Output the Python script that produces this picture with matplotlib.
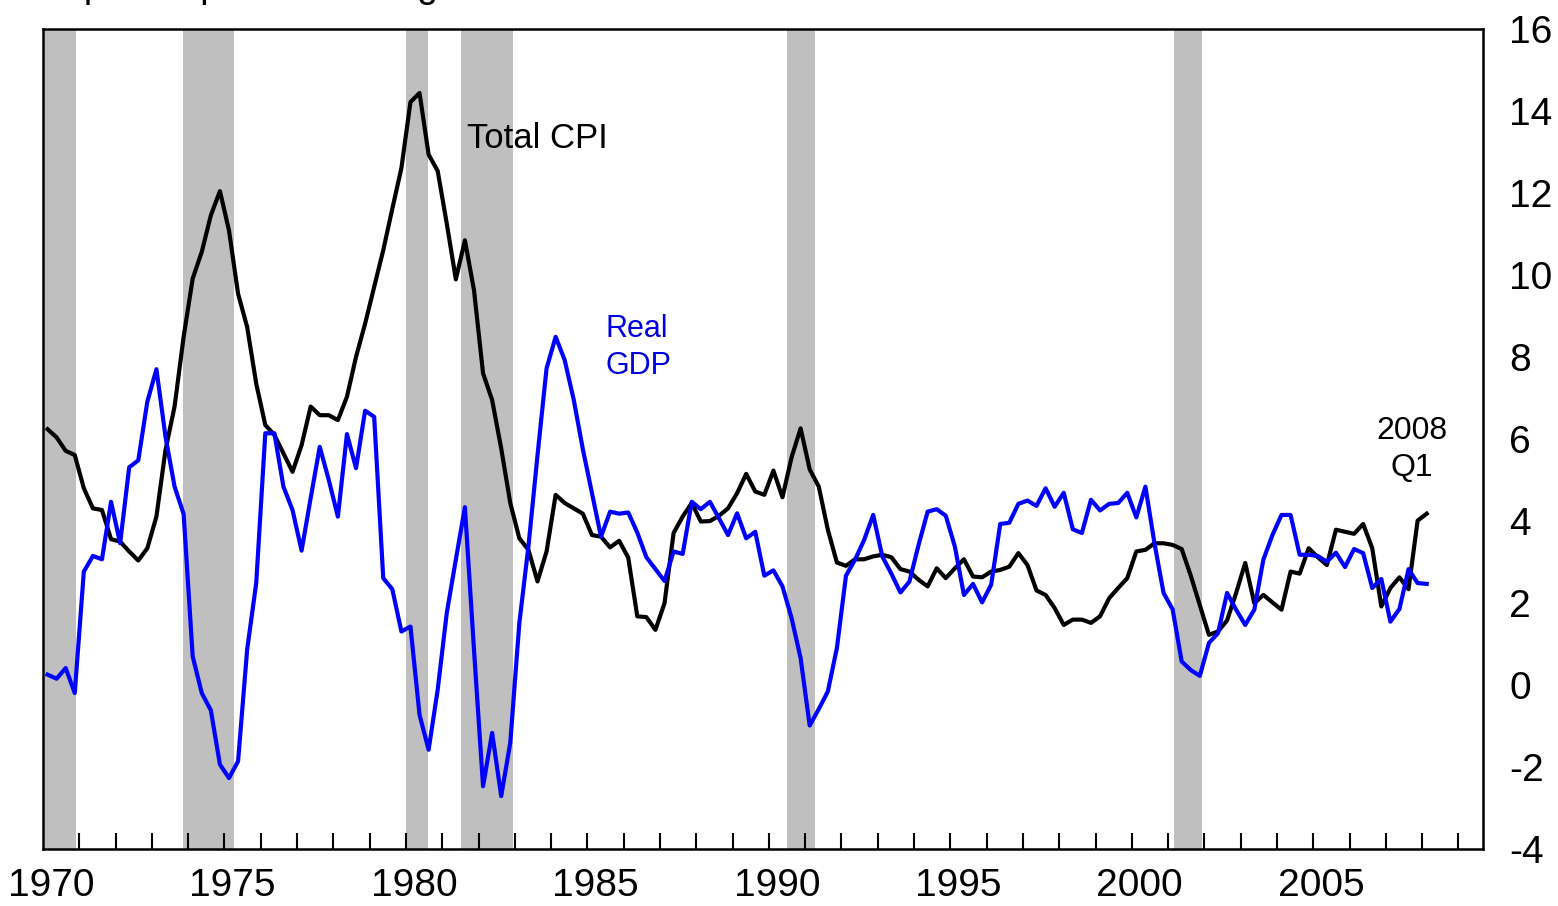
import matplotlib
matplotlib.use("Agg")
import matplotlib.pyplot as plt
import numpy as np

plt.rcParams['font.family'] = ['Liberation Sans', 'DejaVu Sans']

#------- Data (quarterly, 1970Q1 - 2008Q1) -------#

first_year = 1970

# Total CPI, 4-quarter percent change
cpi = [6.24, 6.04, 5.71, 5.61, 4.80, 4.31, 4.27, 3.56, 3.50, 3.26,
       3.04, 3.34, 4.11, 5.73, 6.79, 8.49, 9.91, 10.56, 11.45, 12.04,
       11.08, 9.54, 8.73, 7.35, 6.34, 6.10, 5.65, 5.20, 5.85, 6.79,
       6.58, 6.58, 6.46, 7.03, 8.00, 8.81, 9.70, 10.60, 11.61, 12.60,
       14.21, 14.43, 12.93, 12.53, 11.25, 9.89, 10.84, 9.63, 7.60, 6.95,
       5.77, 4.44, 3.58, 3.30, 2.53, 3.26, 4.64, 4.44, 4.31, 4.18,
       3.66, 3.62, 3.36, 3.52, 3.11, 1.68, 1.66, 1.35, 2.00, 3.71,
       4.11, 4.44, 3.99, 4.00, 4.13, 4.31, 4.68, 5.15, 4.72, 4.64,
       5.23, 4.58, 5.55, 6.26, 5.26, 4.84, 3.79, 2.99, 2.91, 3.07,
       3.07, 3.14, 3.18, 3.12, 2.83, 2.77, 2.57, 2.41, 2.85, 2.61,
       2.85, 3.07, 2.65, 2.63, 2.77, 2.81, 2.89, 3.22, 2.93, 2.31,
       2.20, 1.88, 1.47, 1.60, 1.60, 1.52, 1.68, 2.12, 2.37, 2.61,
       3.26, 3.30, 3.46, 3.46, 3.42, 3.32, 2.67, 1.95, 1.23, 1.31,
       1.58, 2.25, 2.98, 2.00, 2.20, 2.02, 1.84, 2.77, 2.72, 3.34,
       3.12, 2.93, 3.79, 3.74, 3.69, 3.93, 3.34, 1.92, 2.37, 2.63,
       2.34, 4.01, 4.18]

# Real GDP, 4-quarter percent change
gdp = [0.26, 0.16, 0.42, -0.19, 2.77, 3.15, 3.07, 4.47, 3.46, 5.31,
       5.48, 6.91, 7.70, 6.06, 4.84, 4.17, 0.70, -0.19, -0.61, -1.93,
       -2.26, -1.85, 0.87, 2.49, 6.14, 6.14, 4.84, 4.27, 3.28, 4.56,
       5.81, 5.00, 4.11, 6.12, 5.29, 6.69, 6.54, 2.61, 2.34, 1.31,
       1.43, -0.72, -1.57, -0.11, 1.76, 3.06, 4.34, 0.87, -2.46, -1.16,
       -2.70, -1.40, 1.52, 3.38, 5.60, 7.72, 8.49, 7.92, 6.95, 5.75,
       4.68, 3.62, 4.23, 4.18, 4.21, 3.72, 3.12, 2.83, 2.54, 3.26,
       3.20, 4.47, 4.29, 4.47, 4.07, 3.66, 4.19, 3.58, 3.74, 2.67,
       2.80, 2.41, 1.64, 0.66, -0.98, -0.58, -0.15, 0.91, 2.67, 3.06,
       3.54, 4.15, 3.14, 2.72, 2.26, 2.53, 3.42, 4.23, 4.29, 4.13,
       3.38, 2.20, 2.47, 2.02, 2.45, 3.93, 3.96, 4.42, 4.50, 4.37,
       4.80, 4.35, 4.69, 3.80, 3.71, 4.52, 4.26, 4.42, 4.44, 4.69,
       4.09, 4.84, 3.46, 2.25, 1.85, 0.58, 0.37, 0.23, 1.03, 1.27,
       2.25, 1.84, 1.47, 1.84, 3.06, 3.66, 4.15, 4.15, 3.18, 3.18,
       3.15, 3.01, 3.23, 2.88, 3.32, 3.22, 2.37, 2.59, 1.55, 1.86,
       2.83, 2.49, 2.47]

# recessions (start, end) in fractional years
rec_start = [1970.0, 1973.87, 1980.0, 1981.52, 1990.51, 2001.17]
rec_end = [1970.92, 1975.26, 1980.62, 1982.94, 1991.27, 2001.93]

year_labels = [1970, 1975, 1980, 1985, 1990, 1995, 2000, 2005]
y_ticks = [-4, -2, 0, 2, 4, 6, 8, 10, 12, 14, 16]

#------- Plot -------#

# points sit in the middle of each quarter
dates = first_year + np.arange(len(cpi)) / 4 + 0.125

fig = plt.figure(figsize=(15.58, 9.06), dpi=100)
ax = fig.add_axes([0.0276, 0.0624, 0.9241, 0.9061])

for s, e in zip(rec_start, rec_end):
    ax.axvspan(s, e, color='#bfbfbf', lw=0, zorder=0)

ax.plot(dates, gdp, color='#0000ff', lw=3, zorder=3)
ax.plot(dates, cpi, color='black', lw=3, zorder=2)

ax.set_xlim(1970, 2009.67)
ax.set_ylim(-4, 16)

# yearly tick marks, labels a bit to the right of the year start
ax.set_xticks(np.arange(1971, 2010), minor=True)
ax.set_xticks([y + 0.22 for y in year_labels])
ax.set_xticklabels([str(y) for y in year_labels])
ax.tick_params(axis='x', which='minor', direction='in', length=11.5, width=1.5, color='black')
ax.tick_params(axis='x', which='major', length=0, pad=13, labelsize=28)

ax.yaxis.tick_right()
ax.set_yticks(y_ticks)
ax.set_yticklabels([str(v) for v in y_ticks])
ax.tick_params(axis='y', length=0, pad=19, labelsize=28)

for sp in ax.spines.values():
    sp.set_linewidth(1.8)
    sp.set_color('black')

ax.text(1981.68, 13.1, 'Total CPI', fontsize=25, color='black', ha='left', va='baseline')
# multi-line labels: y is the baseline of the last line
ax.text(1985.51, 7.58, 'Real\nGDP', fontsize=22, color='#0000e0', ha='left', va='baseline',
        linespacing=1.32)
ax.text(2007.72, 5.10, '2008\nQ1', fontsize=23, color='black', ha='center', va='baseline',
        linespacing=1.32)

# title sits mostly above the top edge of the image
fig.text(0.0244, 1.0033, '4-quarter percent change', fontsize=27, ha='left', va='baseline')

fig.savefig('out.png', dpi=100)
